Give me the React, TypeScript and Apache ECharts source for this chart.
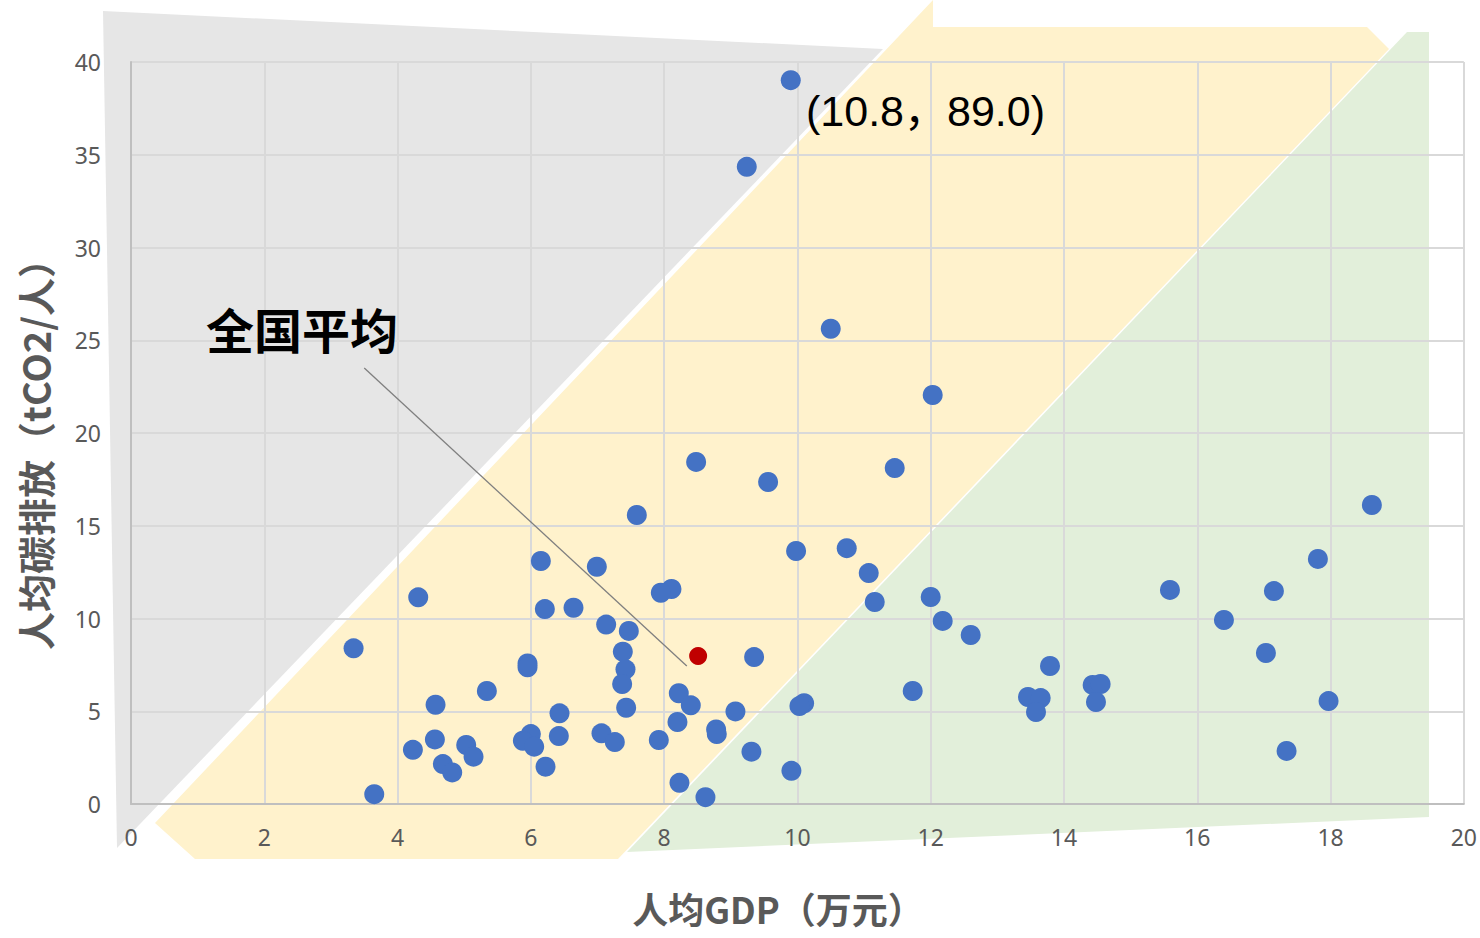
import React, { useEffect, useRef } from "react";
import * as echarts from "echarts";

// 人均GDP（万元）
const gdp: number[] = [
  9.90, 9.24, 10.50, 12.03, 8.48, 11.46, 9.56, 7.59, 18.62, 9.98,
  10.74, 6.15, 6.99, 11.07, 17.81, 8.11, 7.95, 4.31, 12.00, 15.59,
  17.15, 6.21, 6.64, 11.16, 12.18, 16.40, 7.13, 7.47, 12.60, 3.34,
  7.38, 17.03, 9.35, 5.95, 5.95, 7.42, 13.79, 7.37, 14.43, 14.55,
  5.34, 11.73, 8.22, 13.46, 13.65, 4.57, 8.40, 10.10, 10.03, 14.48,
  17.97, 7.43, 6.43, 9.07, 13.58, 8.20, 8.78, 8.79, 7.06, 7.26,
  6.42, 6.00, 5.88, 6.05, 7.92, 4.56, 5.03, 5.14, 4.23, 4.68,
  4.82, 6.22, 9.31, 17.34, 9.91, 8.23, 8.62, 3.65,
];
// 人均碳排放（tCO2/人）
const co2: number[] = [
  39.02, 34.35, 25.62, 22.05, 18.44, 18.11, 17.36, 15.58, 16.12, 13.64,
  13.79, 13.10, 12.79, 12.45, 13.21, 11.59, 11.39, 11.14, 11.16, 11.54,
  11.48, 10.51, 10.58, 10.89, 9.87, 9.92, 9.67, 9.33, 9.11, 8.39,
  8.21, 8.14, 7.92, 7.58, 7.37, 7.26, 7.44, 6.47, 6.42, 6.47,
  6.09, 6.09, 5.97, 5.77, 5.71, 5.35, 5.32, 5.43, 5.28, 5.50,
  5.55, 5.19, 4.89, 4.99, 4.96, 4.42, 4.02, 3.77, 3.81, 3.34,
  3.66, 3.77, 3.41, 3.09, 3.45, 3.48, 3.18, 2.55, 2.92, 2.15,
  1.70, 2.01, 2.82, 2.86, 1.79, 1.14, 0.37, 0.53,
];
// 全国平均
const nationalAvg: number[] = [8.51, 7.98];
// 标注引线（数据坐标）
const leaderStart: number[] = [3.5, 23.5];
const leaderEnd: number[] = [8.34, 7.44];
const outlierLabel = "(10.8，89.0)";

// 背景装饰形状（像素坐标）
const grayShape = [[103, 11], [883, 49], [117, 848]];
const yellowShape = [
  [933, 0], [933, 27], [1367, 27], [1389, 49], [618, 859],
  [195, 859], [155, 823],
];
const greenShape = [[1407, 32], [1429, 32], [1429, 817], [627, 852]];

export default function App() {
  const ref = useRef<HTMLDivElement>(null);
  useEffect(() => {
    if (!ref.current) return;
    const chart = echarts.init(ref.current, null, { renderer: "svg" });
    const tickFont = "'Noto Sans', 'Open Sans', sans-serif";
    const cjkFont = "'Noto Sans CJK SC', sans-serif";
    chart.setOption({
      animation: false,
      backgroundColor: "#ffffff",
      grid: { left: 131, right: 16, top: 62, bottom: 134, containLabel: false },
      xAxis: {
        type: "value",
        min: 0,
        max: 20,
        interval: 2,
        axisLine: { show: true, lineStyle: { color: "#BFBFBF", width: 2 } },
        axisTick: { show: false },
        splitLine: { show: true, lineStyle: { color: "#D9D9D9", width: 2 } },
        axisLabel: { color: "#595959", fontSize: 23, fontFamily: tickFont, margin: 21 },
      },
      yAxis: {
        type: "value",
        min: 0,
        max: 40,
        interval: 5,
        axisLine: { show: true, lineStyle: { color: "#BFBFBF", width: 2 } },
        axisTick: { show: false },
        splitLine: { show: true, lineStyle: { color: "#D9D9D9", width: 2 } },
        axisLabel: { color: "#595959", fontSize: 23, fontFamily: tickFont, margin: 30 },
      },
      graphic: [
        { type: "polygon", z: -10, silent: true, shape: { points: grayShape }, style: { fill: "#E6E6E6" } },
        { type: "polygon", z: -10, silent: true, shape: { points: yellowShape }, style: { fill: "#FFF2CC" } },
        { type: "polygon", z: -10, silent: true, shape: { points: greenShape }, style: { fill: "#E2EFDA" } },
        {
          type: "text", z: 100, x: 806, y: 111,
          style: { text: outlierLabel, fontSize: 43, fontFamily: "'Liberation Sans', Arial, 'Noto Sans CJK SC', sans-serif", fill: "#000000", align: "left", verticalAlign: "middle" },
        },
        {
          type: "text", z: 100, x: 302, y: 328,
          style: { text: "全国平均", fontSize: 48, fontWeight: "bold", fontFamily: cjkFont, fill: "#000000", align: "center", verticalAlign: "middle" },
        },
        {
          type: "text", z: 100, x: 778, y: 908,
          style: { text: "人均GDP（万元）", fontSize: 36, fontWeight: "bold", fontFamily: cjkFont, fill: "#595959", align: "center", verticalAlign: "middle" },
        },
        {
          type: "text", z: 100, x: 34, y: 445, rotation: Math.PI / 2,
          style: { text: "人均碳排放（tCO2/人）", fontSize: 38, fontWeight: "bold", fontFamily: cjkFont, fill: "#595959", align: "center", verticalAlign: "middle" },
        },
      ],
      series: [
        {
          type: "scatter",
          symbolSize: 20,
          itemStyle: { color: "#4472C4", opacity: 1 },
          data: gdp.map((g, i) => [g, co2[i]]),
          z: 3,
        },
        {
          type: "scatter",
          symbolSize: 18,
          itemStyle: { color: "#C00000", opacity: 1 },
          data: [nationalAvg],
          z: 4,
          markLine: {
            silent: true,
            symbol: ["none", "none"],
            label: { show: false },
            lineStyle: { color: "#7F7F7F", width: 1.3, type: "solid" },
            data: [[{ coord: leaderStart }, { coord: leaderEnd }]],
          },
        },
      ],
    });
    return () => chart.dispose();
  }, []);
  return (
    <div
      ref={ref}
      style={{ position: "absolute", left: 0, top: 0, width: 1480, height: 938 }}
    />
  );
}
